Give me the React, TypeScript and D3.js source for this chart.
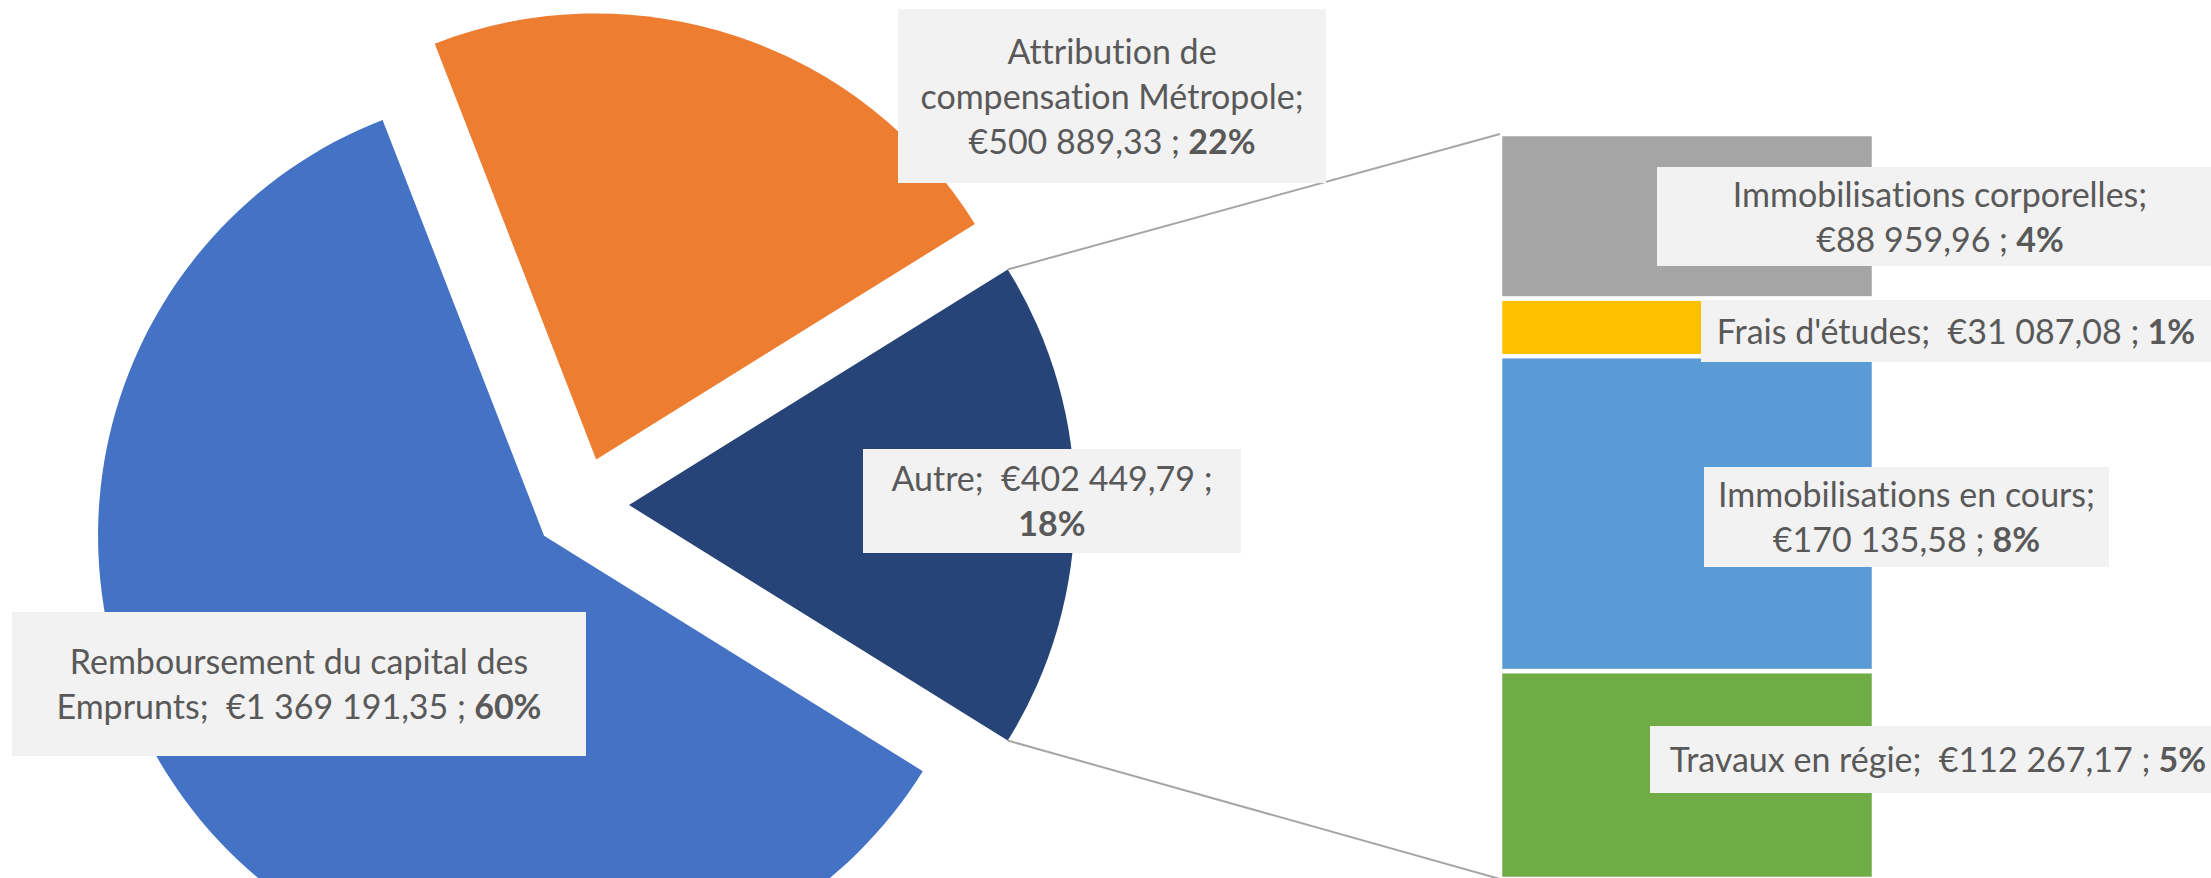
import React from 'react';
import * as d3 from 'd3';

// pie: first-level items (the last one is broken down in the bar)
const pieNames = ['Remboursement du capital des Emprunts', 'Attribution de compensation Métropole', 'Autre'];
const pieValues = [1369191.35, 500889.33, 402449.79];
const pieColors = ['#4472C4', '#ED7D31', '#264478'];

// bar: breakdown of "Autre", top to bottom
const barNames = ['Immobilisations corporelles', "Frais d'études", 'Immobilisations en cours', 'Travaux en régie'];
const barValues = [88959.96, 31087.08, 170135.58, 112267.17];
const barColors = ['#A5A5A5', '#FFC000', '#5B9BD5', '#70AD47'];

// label boxes [x0, y0, x1, y1] and the word counts after which a line breaks
const pieLabelBoxes = [[12, 612, 586, 756], [898, 9, 1326, 183], [863, 449, 1241, 553]];
const pieLabelBreaks = [[4], [2, 4], [3]];
const barLabelBoxes = [[1657, 167, 2223, 266], [1701, 300, 2211, 362], [1704, 467, 2109, 567], [1650, 726, 2226, 793]];
const barLabelBreaks = [[2], [], [3], []];

const W = 2211;
const H = 878;
const FONT = 'Lato, "Open Sans", sans-serif';
const FS = 34;
const LINE = 45;

const fr = d3.formatLocale({ decimal: ',', thousands: '\u00a0', grouping: [3], currency: ['€', ''] });
const money = fr.format('$,.2f');

// excel-like percentages: largest remainder so the shown ones add to 100
function roundPercents(vals: number[], total: number) {
  const raw = vals.map(v => (v / total) * 100);
  const out = raw.map(Math.floor);
  let left = 100 - d3.sum(out);
  const order = d3.range(raw.length).sort((a, b) => (raw[b] - out[b]) - (raw[a] - out[a]));
  for (const i of order) { if (left <= 0) break; out[i] += 1; left -= 1; }
  return out;
}

type Tok = { t: string; sep: string; bold?: boolean };

function tokens(name: string, value: number, pct: number): Tok[] {
  const words = name.split(' ');
  const toks: Tok[] = words.map((w, i) => ({ t: i === words.length - 1 ? w + ';' : w, sep: i === 0 ? '' : ' ' }));
  toks.push({ t: money(value), sep: '  ' });
  toks.push({ t: ';', sep: ' ' });
  toks.push({ t: pct + '%', sep: ' ', bold: true });
  return toks;
}

function Label({ box, toks, breaks }: { box: number[]; toks: Tok[]; breaks: number[] }) {
  const lines: Tok[][] = [];
  let start = 0;
  [...breaks, toks.length].forEach(b => { lines.push(toks.slice(start, b)); start = b; });
  const [x0, y0, x1, y1] = box;
  const cx = (x0 + x1) / 2;
  const cy = (y0 + y1) / 2;
  return (
    <g>
      <rect x={x0} y={y0} width={x1 - x0} height={y1 - y0} fill="#F2F2F2" />
      {lines.map((ln, i) => (
        <text key={i} x={cx} y={cy + (i - (lines.length - 1) / 2) * LINE + FS * 0.37}
          textAnchor="middle" fill="#595959" fontSize={FS} fontFamily={FONT}
          style={{ whiteSpace: 'pre', fontVariantLigatures: 'none' }}>
          {ln.map((tk, j) => (
            <tspan key={j} fontWeight={tk.bold ? 'bold' : 'normal'}>{(j === 0 ? '' : tk.sep) + tk.t}</tspan>
          ))}
        </text>
      ))}
    </g>
  );
}

export default function App() {
  const cx = 581, cy = 505, R = 446, explode = 48;
  const total = d3.sum(pieValues);
  const otherFrac = pieValues[2] / total;

  const start = Math.PI / 2 + Math.PI * otherFrac;
  const arcs = d3.pie<number>().sort(null).startAngle(start).endAngle(start + 2 * Math.PI)(pieValues);
  const arc = d3.arc<d3.PieArcDatum<number>>().innerRadius(0).outerRadius(R);

  const offs = arcs.map(a => {
    const m = (a.startAngle + a.endAngle) / 2;
    return [cx + Math.sin(m) * explode, cy - Math.cos(m) * explode];
  });

  // bar of the "Autre" slice
  const barX = 1500, barW = 374, barTop = 134, barBottom = 879;
  const y = d3.scaleLinear().domain([0, d3.sum(barValues)]).range([barBottom, barTop]);
  const stackTop: number[] = [];
  let acc = 0;
  for (let i = barValues.length - 1; i >= 0; i--) { acc += barValues[i]; stackTop[i] = acc; }

  // connectors from the ends of the other slice to the bar corners
  const o = arcs[2];
  const [ox, oy] = offs[2];
  const pTop = [ox + R * Math.sin(o.startAngle), oy - R * Math.cos(o.startAngle)];
  const pBot = [ox + R * Math.sin(o.endAngle), oy - R * Math.cos(o.endAngle)];

  const pcts = roundPercents([pieValues[0], pieValues[1], ...barValues], total);
  const piePcts = [pcts[0], pcts[1], Math.round(otherFrac * 100)];
  const barPcts = pcts.slice(2);

  return (
    <svg width={W} height={H} style={{ position: 'absolute', left: 0, top: 0, display: 'block' }}>
      <rect width={W} height={H} fill="#fff" />
      {arcs.map((a, i) => (
        <path key={i} d={arc(a) || ''} transform={`translate(${offs[i][0]},${offs[i][1]})`} fill={pieColors[i]} />
      ))}
      {barValues.map((v, i) => (
        <rect key={i} x={barX} width={barW} y={y(stackTop[i])} height={y(stackTop[i] - v) - y(stackTop[i])}
          fill={barColors[i]} stroke="#fff" strokeWidth={4.5} />
      ))}
      <line x1={pTop[0]} y1={pTop[1]} x2={barX} y2={barTop} stroke="#A6A6A6" strokeWidth={2} />
      <line x1={pBot[0]} y1={pBot[1]} x2={barX} y2={barBottom} stroke="#A6A6A6" strokeWidth={2} />
      {pieNames.map((n, i) => (
        <Label key={n} box={pieLabelBoxes[i]} breaks={pieLabelBreaks[i]} toks={tokens(n, pieValues[i], piePcts[i])} />
      ))}
      {barNames.map((n, i) => (
        <Label key={n} box={barLabelBoxes[i]} breaks={barLabelBreaks[i]} toks={tokens(n, barValues[i], barPcts[i])} />
      ))}
    </svg>
  );
}
